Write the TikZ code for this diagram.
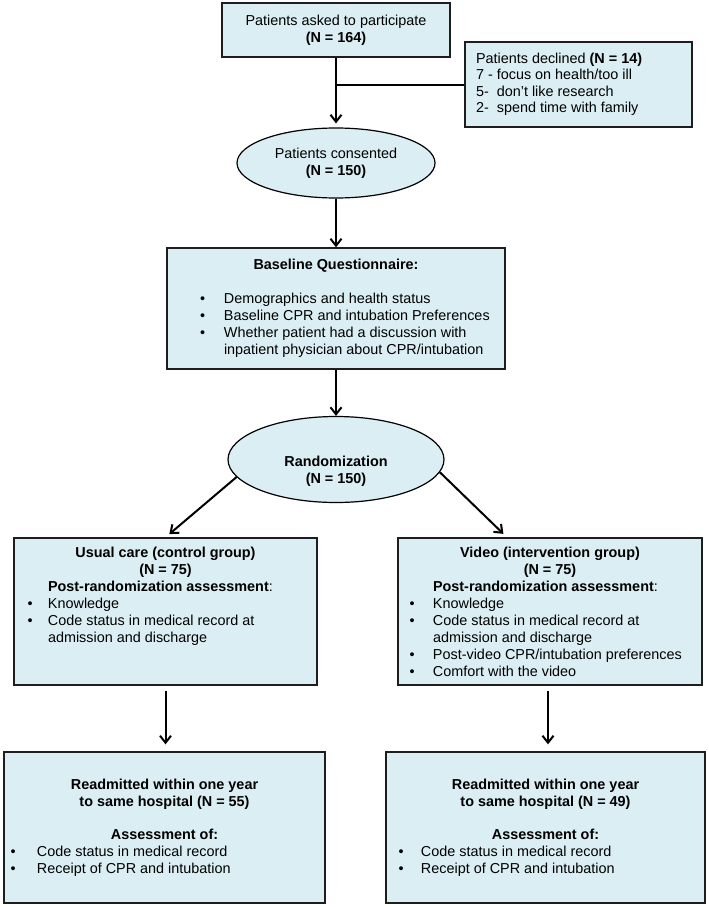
\documentclass[tikz,border=0pt]{standalone}
\usepackage{fontspec}
\setmainfont{Liberation Sans}
\usepackage{tikz}
\usetikzlibrary{positioning,arrows.meta,shapes.geometric}
\definecolor{boxfill}{HTML}{DBEEF4}
\definecolor{boxline}{HTML}{1E1E1E}
\newcommand{\bul}[3]{\par\noindent\hspace*{#1}\makebox[#2][l]{\textbullet}#3}
\newcommand{\cont}[2]{\par\noindent\hspace*{#1}#2}

\begin{document}
\begin{tikzpicture}[x=1pt,y=-1pt,font=\fontsize{14.4}{17}\selectfont,
  flowbox/.style={draw=boxline,fill=boxfill,line width=1.3pt,inner sep=0pt},
  oval/.style={ellipse,draw=black,fill=boxfill,line width=1.2pt,inner sep=0pt,align=center},
  ar/.style={-{Straight Barb[length=7pt,width=11pt]},line width=2pt},
  ln/.style={line width=2pt}]
\useasboundingbox (0,0) rectangle (709,907);
\node[flowbox,minimum width=228pt,minimum height=54pt,align=center] (ask) at (336,30)
  {Patients asked to participate\\\textbf{(N = 164)}};
\node[flowbox,minimum width=227pt,minimum height=85pt] (decl) at (578.5,84.5)
  {\begin{minipage}{205pt}\baselineskip=16.5pt
   Patients declined \textbf{(N = 14)}\\7 - focus on health/too ill\\5-\ \ don’t like research\\2-\ \ spend time with family
   \end{minipage}};
\node[oval,minimum width=198pt,minimum height=70pt] (cons) at (336,163)
  {Patients consented\\\textbf{(N = 150)}};
\node[flowbox,minimum width=338pt,minimum height=121pt] (base) at (336,308.5)
  {\begin{minipage}{338pt}
   {\centering\textbf{Baseline Questionnaire:}\par}\vspace{17pt}\raggedright
   \bul{33pt}{24pt}{Demographics and health status}
   \bul{33pt}{24pt}{Baseline CPR and intubation Preferences}
   \bul{33pt}{24pt}{Whether patient had a discussion with}
   \cont{57pt}{inpatient physician about CPR/intubation}
   \end{minipage}};
\node[oval,minimum width=216pt,minimum height=86pt] (rand) at (336,459.5)
  {\rule{0pt}{33pt}\textbf{Randomization}\\\textbf{(N = 150)}};
\node[flowbox] (lgrp) at (165.5,611.5)
  {\begin{minipage}[c][147pt][t]{303pt}\vspace*{9pt}
   {\centering\textbf{Usual care (control group)}\par\textbf{(N = 75)}\par}\raggedright
   \cont{34pt}{\textbf{Post-randomization assessment}:}
   \bul{13.5pt}{20.5pt}{Knowledge}
   \bul{13.5pt}{20.5pt}{Code status in medical record at}
   \cont{34pt}{admission and discharge}
   \end{minipage}};
\node[flowbox] (rgrp) at (550,611.5)
  {\begin{minipage}[c][147pt][t]{304pt}\vspace*{9pt}
   {\centering\textbf{Video (intervention group)}\par\textbf{(N = 75)}\par}\raggedright
   \cont{35pt}{\textbf{Post-randomization assessment}:}
   \bul{11.5pt}{23.5pt}{Knowledge}
   \bul{11.5pt}{23.5pt}{Code status in medical record at}
   \cont{35pt}{admission and discharge}
   \bul{11.5pt}{23.5pt}{Post-video CPR/intubation preferences}
   \bul{11.5pt}{23.5pt}{Comfort with the video}
   \end{minipage}};
\node[flowbox,minimum width=321pt,minimum height=151pt] (lread) at (164.5,827.5)
  {\begin{minipage}{321pt}
   {\centering\textbf{Readmitted within one year}\par\textbf{to same hospital (N = 55)}\par
   \vspace{16pt}\textbf{Assessment of:}\par}\raggedright
   \bul{6.5pt}{26.5pt}{Code status in medical record}
   \bul{6.5pt}{26.5pt}{Receipt of CPR and intubation}
   \end{minipage}};
\node[flowbox,minimum width=319pt,minimum height=151pt] (rread) at (545.5,827.5)
  {\begin{minipage}{319pt}
   {\centering\textbf{Readmitted within one year}\par\textbf{to same hospital (N = 49)}\par
   \vspace{16pt}\textbf{Assessment of:}\par}\raggedright
   \bul{12.5pt}{22.5pt}{Code status in medical record}
   \bul{12.5pt}{22.5pt}{Receipt of CPR and intubation}
   \end{minipage}};
\draw[ar,shorten >=4pt] (ask) -- (cons); \draw[ln] (decl.west) -- (decl.west -| ask.south);
\draw[ar] (cons) -- (base); \draw[ar] (base) -- (rand);
\draw[ar,shorten >=5pt] (rand.190) -- (lgrp.north); \draw[ar,shorten >=5pt] (rand.353) -- ([xshift=-43pt]rgrp.north);
\draw[ar,shorten <=5pt,shorten >=7pt] (lgrp.south) -- (lgrp.south |- lread.north);
\draw[ar,shorten <=5pt,shorten >=7pt] ([xshift=-2pt]rgrp.south) -- ([xshift=-2pt]rgrp.south |- rread.north);
\end{tikzpicture}
\end{document}
